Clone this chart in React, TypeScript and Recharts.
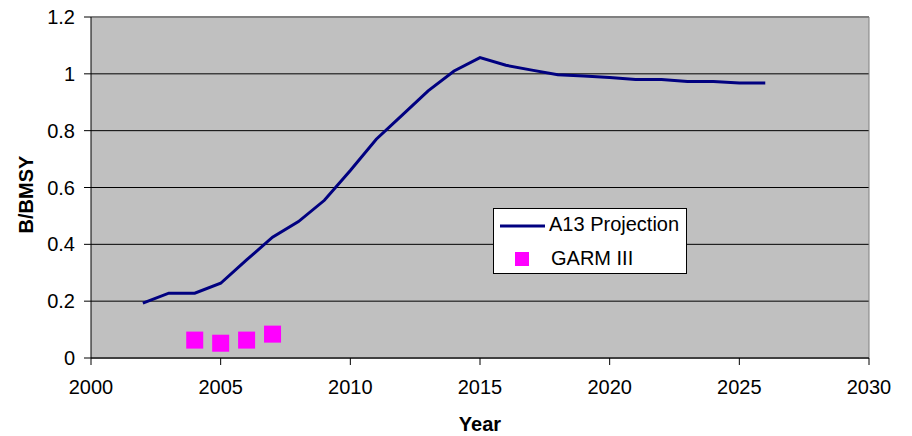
import React from 'react';
import { ComposedChart, Line, Scatter, XAxis, YAxis, CartesianGrid, ReferenceLine } from 'recharts';

const years = [2002, 2003, 2004, 2005, 2006, 2007, 2008, 2009, 2010, 2011, 2012, 2013, 2014, 2015, 2016, 2017, 2018, 2019, 2020, 2021, 2022, 2023, 2024, 2025, 2026];
const projection = [0.193, 0.228, 0.228, 0.263, 0.345, 0.425, 0.48, 0.555, 0.66, 0.77, 0.855, 0.94, 1.01, 1.057, 1.03, 1.013, 0.997, 0.992, 0.987, 0.98, 0.98, 0.973, 0.973, 0.968, 0.968];
const garmYears = [2004, 2005, 2006, 2007];
const garmValues = [0.063, 0.052, 0.063, 0.084];
const xTicks = [2000, 2005, 2010, 2015, 2020, 2025, 2030];
const yTicks = [0, 0.2, 0.4, 0.6, 0.8, 1, 1.2];
const seriesNames = ['A13 Projection', 'GARM III'];

const lineData = years.map((y, i) => ({ year: y, value: projection[i] }));
const garmData = garmYears.map((y, i) => ({ year: y, value: garmValues[i] }));

const FONT = '"Liberation Sans", Arial, sans-serif';
const FS = 20;

const SquareShape = (props: any) => {
  const { cx, cy } = props;
  const s = 17;
  return <rect x={cx - s / 2} y={cy - s / 2} width={s} height={s} fill="#FF00FF" />;
};

const LegendBox = () => (
  <svg width={194} height={66} style={{ display: 'block' }}>
    <rect x={0.5} y={0.5} width={193} height={65} fill="#FFFFFF" stroke="#000000" strokeWidth={1} />
    <line x1={7} y1={18} x2={52} y2={18} stroke="#000080" strokeWidth={3} />
    <text x={56} y={23} fontSize={FS} fontFamily={FONT} fill="#000">{seriesNames[0]}</text>
    <rect x={22} y={44} width={14} height={14} fill="#FF00FF" />
    <text x={58} y={57} fontSize={FS} fontFamily={FONT} fill="#000">{seriesNames[1]}</text>
  </svg>
);

const XLabel = (props: any) => {
  const { viewBox } = props;
  const cx = viewBox.x + viewBox.width / 2;
  return (
    <text x={cx} y={431} textAnchor="middle" fontSize={FS} fontWeight="bold" fontFamily={FONT} fill="#000">
      Year
    </text>
  );
};

const YLabel = (props: any) => {
  const { viewBox } = props;
  const cy = viewBox.y + viewBox.height / 2 + 7;
  return (
    <text
      x={33}
      y={cy}
      textAnchor="middle"
      fontSize={FS}
      fontWeight="bold"
      fontFamily={FONT}
      fill="#000"
      transform={`rotate(-90, 33, ${cy})`}
    >
      B/BMSY
    </text>
  );
};

export default function App() {
  return (
    <div style={{ position: 'absolute', left: 0, top: 0, width: 912, height: 436, background: '#fff', fontFamily: FONT }}>
      <ComposedChart width={912} height={436} margin={{ top: 17, right: 43, bottom: 0, left: 0 }}>
        <CartesianGrid horizontal vertical={false} stroke="#000000" fill="#C0C0C0" fillOpacity={1} />
        <XAxis
          type="number"
          dataKey="year"
          domain={[2000, 2030]}
          ticks={xTicks}
          allowDataOverflow
          height={78}
          tickSize={7}
          tickMargin={15}
          tickLine={{ stroke: '#000' }}
          axisLine={{ stroke: '#404040', strokeWidth: 2 }}
          tick={{ fill: '#000', fontSize: FS, fontFamily: FONT }}
          label={<XLabel />}
        />
        <YAxis
          type="number"
          dataKey="value"
          domain={[0, 1.2]}
          ticks={yTicks}
          allowDataOverflow
          width={91}
          tickSize={7}
          tickMargin={9}
          tickLine={{ stroke: '#000' }}
          axisLine={{ stroke: '#000' }}
          tick={{ fill: '#000', fontSize: FS, fontFamily: FONT }}
          tickFormatter={(v: number) => String(v)}
          label={<YLabel />}
        />
        <ReferenceLine y={1.2} stroke="#808080" strokeWidth={2} />
        <ReferenceLine x={2030} stroke="#808080" strokeWidth={1} />
        <Line
          data={lineData}
          dataKey="value"
          type="linear"
          stroke="#000080"
          strokeWidth={3}
          dot={false}
          activeDot={false}
          isAnimationActive={false}
          name={seriesNames[0]}
        />
        <Scatter
          data={garmData}
          dataKey="value"
          shape={<SquareShape />}
          isAnimationActive={false}
          name={seriesNames[1]}
        />
      </ComposedChart>
      <div style={{ position: 'absolute', left: 493, top: 208, width: 194, height: 66 }}>
        <LegendBox />
      </div>
    </div>
  );
}
